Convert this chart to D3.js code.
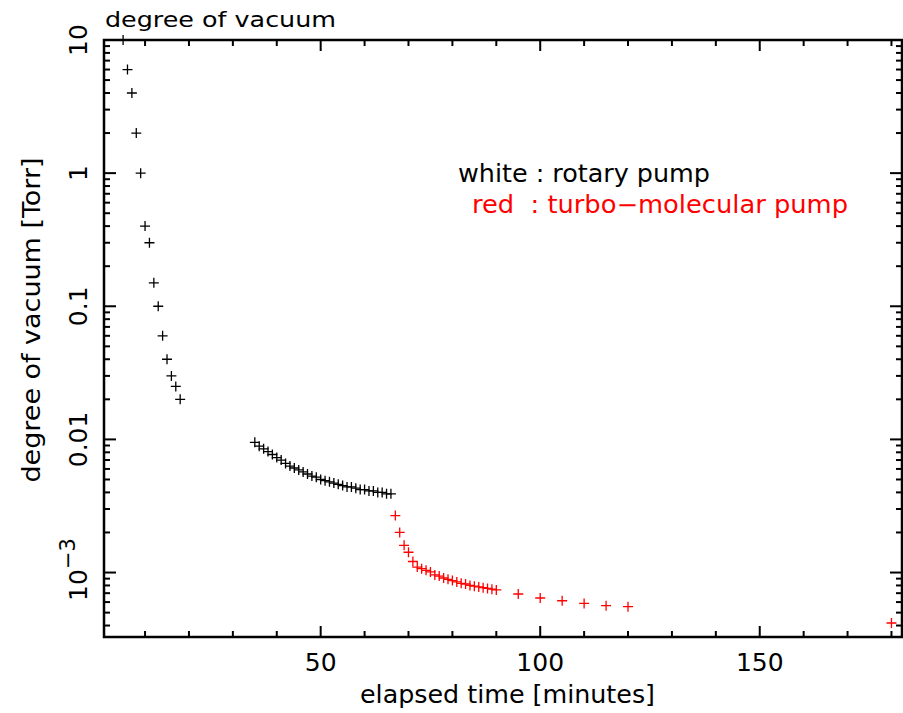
<!DOCTYPE html>
<html>
<head>
<meta charset="utf-8">
<script src="https://cdn.jsdelivr.net/npm/d3@7"></script>
<style>
  body { margin: 0; background: #fff; }
  text { font-family: "DejaVu Sans", sans-serif; fill: #000; }
  .frame { fill: none; stroke: #000; stroke-width: 2.5; }
  .tick { stroke: #000; stroke-width: 2; }
</style>
</head>
<body>
<div id="viz"></div>
<script>
// rotary pump readings (black)
const rotaryTime = [5, 6, 7, 8, 9, 10, 11, 12, 13, 14, 15, 16, 17, 18,
    35, 36, 37, 38, 39, 40, 41, 42, 43, 44, 45, 46, 47, 48, 49, 50,
    51, 52, 53, 54, 55, 56, 57, 58, 59, 60, 61, 62, 63, 64, 65, 66];
const rotaryTorr = [10, 6, 4, 2, 1, 0.4, 0.3, 0.15, 0.1, 0.06, 0.04, 0.03, 0.025, 0.02,
    0.0095, 0.0089, 0.0085, 0.0081, 0.0077, 0.0073, 0.0070, 0.0066, 0.0063, 0.0061, 0.0059, 0.0057, 0.0055, 0.0053, 0.0052, 0.0050,
    0.0049, 0.0048, 0.0047, 0.0046, 0.0045, 0.0044, 0.0044, 0.0043, 0.0042, 0.0042, 0.0041, 0.0041, 0.0040, 0.0040, 0.0039, 0.0039];

// turbo-molecular pump readings (red)
const turboTime = [67, 68, 69, 70, 71, 72, 73, 74, 75, 76, 77, 78, 79, 80, 81, 82, 83, 84, 85, 86, 87, 88, 89, 90,
    95, 100, 105, 110, 115, 120, 180];
const turboTorr = [0.00268, 0.0020, 0.0016, 0.00142, 0.00121, 0.0011, 0.00107, 0.00104, 0.00101, 0.00096, 0.00094, 0.00091,
    0.00089, 0.00087, 0.00085, 0.00083, 0.00082, 0.00080, 0.00079, 0.00078, 0.00077, 0.00076, 0.00075, 0.00074,
    0.00069, 0.000644, 0.000614, 0.000586, 0.000564, 0.000554, 0.000418];

const xDomain = [0.65, 182.4];
const yDomain = [3.28e-4, 10];
const xTickValues = d3.range(10, 181, 10);
const xLabelValues = [50, 100, 150];

const width = 903;
const height = 713;
const plot = { left: 104, right: 902, top: 40, bottom: 637 };

const svg = d3.select("#viz")
    .append("svg")
    .attr("width", width)
    .attr("height", height);

const x = d3.scaleLinear().domain(xDomain).range([plot.left, plot.right]);
const y = d3.scaleLog().domain(yDomain).range([plot.bottom, plot.top]);

const isDecade = v => Math.abs(Math.log10(v) - Math.round(Math.log10(v))) < 1e-9;

// x ticks, bottom (up) and top (down)
const xTicks = svg.append("g");
xTickValues.forEach(v => {
    const len = v % 50 === 0 ? 11 : 6;
    xTicks.append("line").attr("class", "tick")
        .attr("x1", x(v)).attr("x2", x(v))
        .attr("y1", plot.bottom).attr("y2", plot.bottom - len);
    xTicks.append("line").attr("class", "tick")
        .attr("x1", x(v)).attr("x2", x(v))
        .attr("y1", plot.top).attr("y2", plot.top + len);
});

// y ticks, left and right, from the log scale
const yTicks = svg.append("g");
y.ticks().forEach(v => {
    const len = isDecade(v) ? 12 : 6;
    yTicks.append("line").attr("class", "tick")
        .attr("x1", plot.left).attr("x2", plot.left + len)
        .attr("y1", y(v)).attr("y2", y(v));
    yTicks.append("line").attr("class", "tick")
        .attr("x1", plot.right).attr("x2", plot.right - len)
        .attr("y1", y(v)).attr("y2", y(v));
});

// frame
svg.append("rect").attr("class", "frame")
    .attr("x", plot.left).attr("y", plot.top)
    .attr("width", plot.right - plot.left)
    .attr("height", plot.bottom - plot.top);

// x tick labels
svg.selectAll(".xlabel")
    .data(xLabelValues)
    .enter()
    .append("text")
    .attr("class", "xlabel")
    .attr("x", d => x(d))
    .attr("y", 671)
    .attr("text-anchor", "middle")
    .style("font-size", "25px")
    .text(d => d);

// y tick labels (rotated)
const yLabels = [
    { v: 10, t: "10" },
    { v: 1, t: "1" },
    { v: 0.1, t: "0.1" },
    { v: 0.01, t: "0.01" }
];
yLabels.forEach(l => {
    svg.append("text")
        .attr("transform", "translate(87," + y(l.v) + ") rotate(-90)")
        .attr("text-anchor", "middle")
        .style("font-size", "25px")
        .text(l.t);
});
const expLabel = svg.append("text")
    .attr("transform", "translate(87," + (y(0.001) - 3) + ") rotate(-90)")
    .attr("text-anchor", "middle")
    .style("font-size", "25px");
expLabel.append("tspan").text("10");
expLabel.append("tspan").attr("dy", -12).style("font-size", "21px").text("\u22123");

// title and axis titles
svg.append("text")
    .attr("x", 105).attr("y", 27)
    .attr("textLength", 231).attr("lengthAdjust", "spacingAndGlyphs")
    .style("font-size", "22px")
    .text("degree of vacuum");

svg.append("text")
    .attr("x", 360).attr("y", 703)
    .attr("textLength", 295).attr("lengthAdjust", "spacingAndGlyphs")
    .style("font-size", "24px")
    .text("elapsed time [minutes]");

svg.append("text")
    .attr("transform", "translate(40,320) rotate(-90)")
    .attr("text-anchor", "middle")
    .attr("textLength", 325).attr("lengthAdjust", "spacingAndGlyphs")
    .style("font-size", "24px")
    .text("degree of vacuum [Torr]");

// legend
svg.append("text")
    .attr("x", 458).attr("y", 182)
    .attr("textLength", 252).attr("lengthAdjust", "spacingAndGlyphs")
    .style("font-size", "24px")
    .text("white : rotary pump");

svg.append("text")
    .attr("x", 472).attr("y", 213)
    .attr("textLength", 376).attr("lengthAdjust", "spacingAndGlyphs")
    .style("font-size", "24px")
    .style("fill", "#ff0000")
    .style("white-space", "pre")
    .text("red  : turbo\u2212molecular pump");

// plus markers
const cross = "M-5,0H5M0,-5V5";
function drawSeries(times, values, color) {
    svg.append("g")
        .selectAll("path")
        .data(times.map((t, i) => ({ t: t, v: values[i] })))
        .enter()
        .append("path")
        .attr("d", cross)
        .attr("transform", d => "translate(" + x(d.t) + "," + y(d.v) + ")")
        .attr("fill", "none")
        .attr("stroke", color)
        .attr("stroke-width", 1.3);
}
drawSeries(rotaryTime, rotaryTorr, "#000");
drawSeries(turboTime, turboTorr, "#ff0000");
</script>
</body>
</html>
